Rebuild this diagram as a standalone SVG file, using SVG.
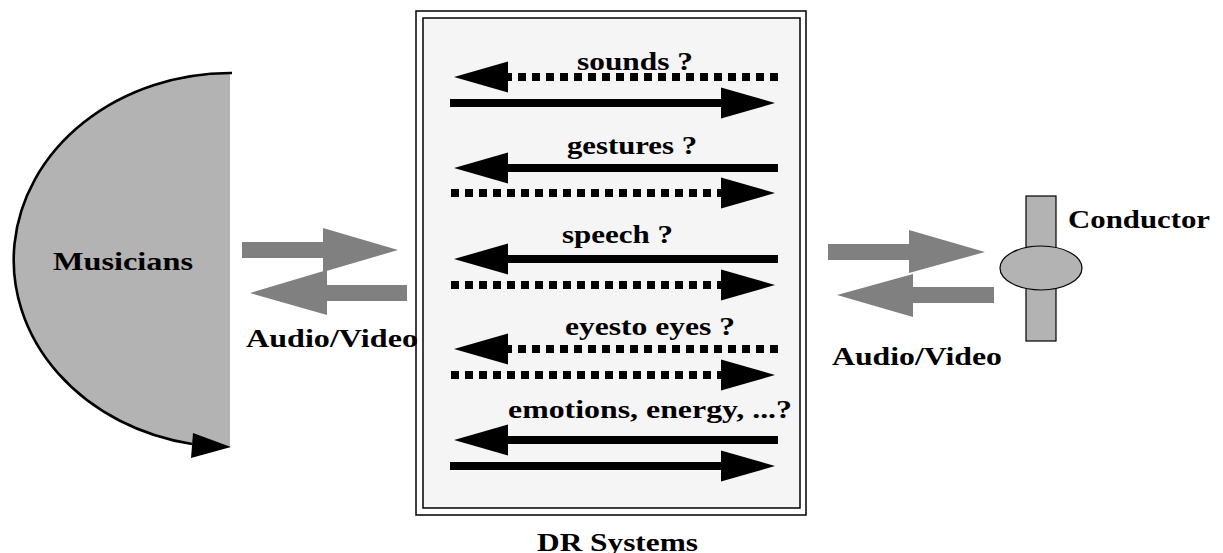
<svg xmlns="http://www.w3.org/2000/svg" width="1223" height="553" viewBox="0 0 1223 553">
<style>
.t{font-family:"Liberation Serif","Times New Roman",serif;font-weight:bold;font-size:26px;fill:#000}
.gray{fill:#808080}
.sh{fill:#b3b3b3;stroke:#000;stroke-width:1.2}
.ln{stroke:#000;stroke-width:8;fill:none}
.dash{stroke-dasharray:8 6}
</style>
<defs>
<marker id="head" markerUnits="userSpaceOnUse" markerWidth="55" markerHeight="32" refX="0" refY="15.5" orient="auto" overflow="visible">
<path d="M0,0 L54,15.5 L0,31 Z" fill="#000"/>
</marker>
</defs>
<rect width="1223" height="553" fill="#fff"/>

<g id="musicians">
<path d="M230,73 A217,187 0 0 0 230,447 Z" fill="#b3b3b3"/>
<path d="M232,73 L230,73 A217,187 0 0 0 192,444" fill="none" stroke="#000" stroke-width="2.6"/>
<polygon points="193,433 231,447 191,458" fill="#000"/>
<text class="t" x="53" y="270" textLength="140" lengthAdjust="spacingAndGlyphs">Musicians</text>
</g>

<g id="dr-systems">
<rect x="416" y="11" width="390" height="504" fill="#fff" stroke="#000" stroke-width="1.5"/>
<rect x="423" y="18" width="377" height="490" fill="#f5f5f5" stroke="#000" stroke-width="1.5"/>
<text class="t" x="537" y="551" textLength="161" lengthAdjust="spacingAndGlyphs">DR Systems</text>
<text class="t" x="577" y="70" textLength="116" lengthAdjust="spacingAndGlyphs">sounds ?</text>
<text class="t" x="567" y="154" textLength="130" lengthAdjust="spacingAndGlyphs">gestures ?</text>
<text class="t" x="562" y="243" textLength="111" lengthAdjust="spacingAndGlyphs">speech ?</text>
<text class="t" x="565" y="335" textLength="170" lengthAdjust="spacingAndGlyphs">eyesto eyes ?</text>
<text class="t" x="508" y="418" textLength="284" lengthAdjust="spacingAndGlyphs">emotions, energy, ...?</text>
</g>

<g id="conductor">
<rect x="1026" y="196" width="30" height="145" class="sh"/>
<ellipse cx="1041" cy="268" rx="41" ry="22" class="sh"/>
<text class="t" x="1068" y="228" textLength="142" lengthAdjust="spacingAndGlyphs">Conductor</text>
</g>

<g id="connectors">
<polygon class="gray" points="242,242 323,242 323,228 398,250 323,272 323,258 242,258"/>
<polygon class="gray" points="407,285 327,285 327,270 250,293 327,315 327,301 407,301"/>
<text class="t" x="246" y="347" textLength="172" lengthAdjust="spacingAndGlyphs">Audio/Video</text>
<polygon class="gray" points="828,244 909,244 909,230 985,252 909,273 909,260 828,260"/>
<polygon class="gray" points="994,287 913,287 913,274 837,295 913,317 913,303 994,303"/>
<text class="t" x="832" y="365" textLength="170" lengthAdjust="spacingAndGlyphs">Audio/Video</text>

<line class="ln dash" x1="778" y1="77" x2="508" y2="77" marker-end="url(#head)"/>
<line class="ln" x1="450" y1="103" x2="721" y2="103" marker-end="url(#head)"/>
<line class="ln" x1="778" y1="168" x2="508" y2="168" marker-end="url(#head)"/>
<line class="ln dash" x1="451" y1="193" x2="721" y2="193" marker-end="url(#head)"/>
<line class="ln" x1="778" y1="259" x2="508" y2="259" marker-end="url(#head)"/>
<line class="ln dash" x1="451" y1="285" x2="721" y2="285" marker-end="url(#head)"/>
<line class="ln dash" x1="778" y1="349" x2="508" y2="349" marker-end="url(#head)"/>
<line class="ln dash" x1="451" y1="375" x2="721" y2="375" marker-end="url(#head)"/>
<line class="ln" x1="778" y1="440" x2="508" y2="440" marker-end="url(#head)"/>
<line class="ln" x1="450" y1="466" x2="721" y2="466" marker-end="url(#head)"/>
</g>
</svg>
